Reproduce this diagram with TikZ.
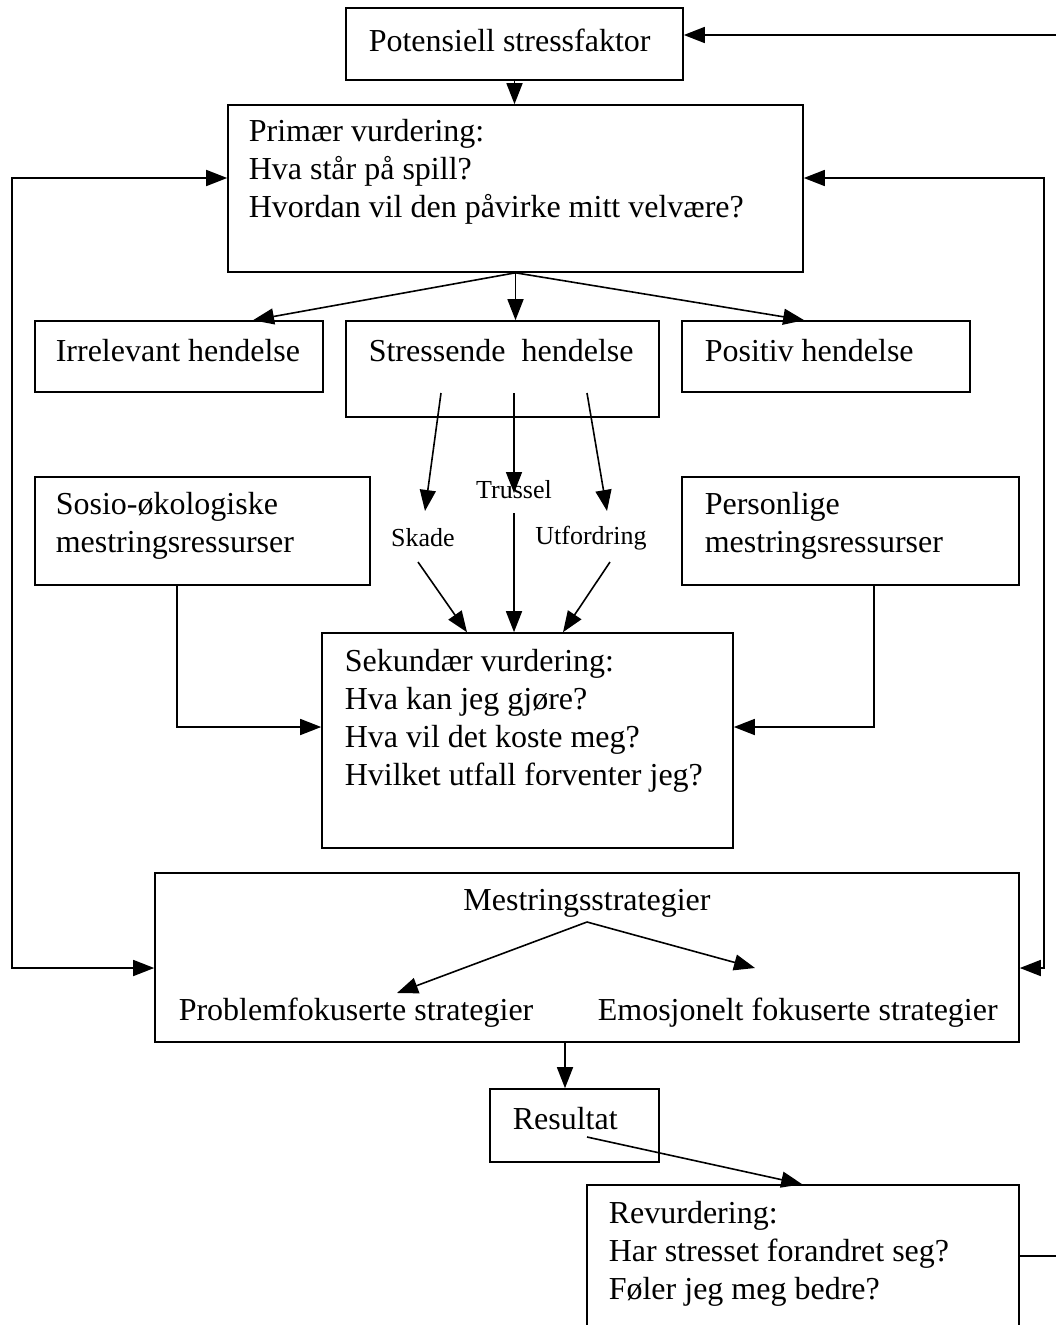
\documentclass[tikz,border=0pt]{standalone}
\usepackage{fontspec}
\setmainfont{Liberation Serif}
\usetikzlibrary{arrows.meta,calc}
\begin{document}
\begin{tikzpicture}[x=1pt,y=-1pt,
  line width=1.6pt,
  box/.style={draw, rectangle, inner sep=0pt},
  txt/.style={inner sep=0pt, align=left, anchor=west, font=\fontsize{32}{38}\selectfont},
  lbl/.style={inner sep=0pt, font=\fontsize{26}{30}\selectfont},
  arr/.style={-{Triangle[length=21pt,width=16pt]}},
  biarr/.style={{Triangle[length=21pt,width=16pt]}-{Triangle[length=21pt,width=16pt]}}
]
\useasboundingbox (0,0) rectangle (1056,1325);
\clip (0,0) rectangle (1056,1325);
\fill[white] (0,0) rectangle (1056,1325);

% boxes
\node[box, minimum width=337pt, minimum height=72pt] (pot) at (514.5,44) {};
\node[box, minimum width=575pt, minimum height=167pt] (prim) at (515.5,188.5) {};
\node[box, minimum width=288pt, minimum height=71pt] (irr) at (179,356.5) {};
\node[box, minimum width=313pt, minimum height=96pt] (str) at (502.5,369) {};
\node[box, minimum width=288pt, minimum height=71pt] (pos) at (826,356.5) {};
\node[box, minimum width=335pt, minimum height=108pt] (sos) at (202.5,531) {};
\node[box, minimum width=337pt, minimum height=108pt] (per) at (850.5,531) {};
\node[box, minimum width=411pt, minimum height=215pt] (sek) at (527.5,740.5) {};
\node[box, minimum width=864pt, minimum height=169pt] (mes) at (587,957.5) {};
\node[box, minimum width=169pt, minimum height=73pt] (res) at (574.5,1125.5) {};
\node[box, minimum width=432pt, minimum height=160pt] (rev) at (803,1265) {};

% texts
\node[txt] (potT) at (368,40) {Potensiell stressfaktor};
\node[txt] (primT) at (248,172) {Primær vurdering:\\Hva står på spill?\\Hvordan vil den påvirke mitt velvære?};
\node[txt] (irrT) at (55,351) {Irrelevant hendelse};
\node[txt] (strT) at (368,351) {Stressende\ \ hendelse};
\node[txt] (posT) at (704,351) {Positiv hendelse};
\node[txt] (sosT) at (55,526) {Sosio-økologiske\\mestringsressurser};
\node[txt] (perT) at (704,526) {Personlige\\mestringsressurser};
\node[txt] (sekT) at (344,721) {Sekundær vurdering:\\Hva kan jeg gjøre?\\Hva vil det koste meg?\\Hvilket utfall forventer jeg?};
\node[txt, anchor=center] (mesT) at (587,903) {Mestringsstrategier};
\node[txt] (probT) at (178,1013) {Problemfokuserte strategier};
\node[txt] (emoT) at (597,1013) {Emosjonelt fokuserte strategier};
\node[txt] (resT) at (512,1119) {Resultat};
\node[txt] (revT) at (608,1254) {Revurdering:\\Har stresset forandret seg?\\Føler jeg meg bedre?};

% small labels
\node[lbl] (skade) at (423,538) {Skade};
\node[lbl] (trussel) at (514,490) {Trussel};
\node[lbl] (utf) at (591,538) {Utfordring};

% coordinates
\coordinate (feedR) at (1056,35);
\coordinate (feedR2) at (1056,1256);
\coordinate (lloop) at (12,178);
\coordinate (rloop) at (1044,178);
\coordinate (s1a) at (441,393);
\coordinate (s1b) at (425,511);
\coordinate (t1a) at (514,393);
\coordinate (t1b) at (514,493);
\coordinate (u1a) at (587,393);
\coordinate (u1b) at (607,511);
\coordinate (s2a) at (418,562);
\coordinate (t2a) at (514,513);
\coordinate (u2a) at (610,562);
\coordinate (apex) at (587,922);
\coordinate (probtip) at (397,993);
\coordinate (emotip) at (755,968);

% connectors
\draw[arr] (feedR) -- (feedR -| pot.east);
\draw[arr] (pot.south) -- (pot.south |- prim.north);
\draw[arr] (prim.south) -- ($(irr.north)+(74,0)$);
\draw[arr] (prim.south) -- (prim.south |- str.north);
\draw[arr] (prim.south) -- ($(pos.north west)+(123,0)$);

\draw[arr] (s1a) -- (s1b);
\draw[arr] (t1a) -- (t1b);
\draw[arr] (u1a) -- (u1b);
\draw[arr] (s2a) -- (sek.north -| 467,0);
\draw[arr] (t2a) -- (sek.north -| 514,0);
\draw[arr] (u2a) -- (sek.north -| 563,0);

\draw[arr] ($(sos.south west)+(143,0)$) |- ($(sek.west)+(0,-13.5)$);
\draw[arr] ($(per.south west)+(193,0)$) |- ($(sek.east)+(0,-13.5)$);

\draw[biarr] ($(prim.west)+(0,-10.5)$) -- (lloop) |- ($(mes.west)+(0,10.5)$);
\draw[biarr] ($(prim.east)+(0,-10.5)$) -- (rloop) |- ($(mes.east)+(0,10.5)$);

\draw[arr] (apex) -- (probtip);
\draw[arr] (apex) -- (emotip);

\draw[arr] ($(mes.south)+(-22,0)$) -- ($(res.north)+(-9.5,0)$);
\draw[arr] ($(res.center)+(12.5,11.5)$) -- ($(rev.north west)+(216,0)$);
\draw (feedR2 -| rev.east) -- (feedR2);
\end{tikzpicture}
\end{document}
